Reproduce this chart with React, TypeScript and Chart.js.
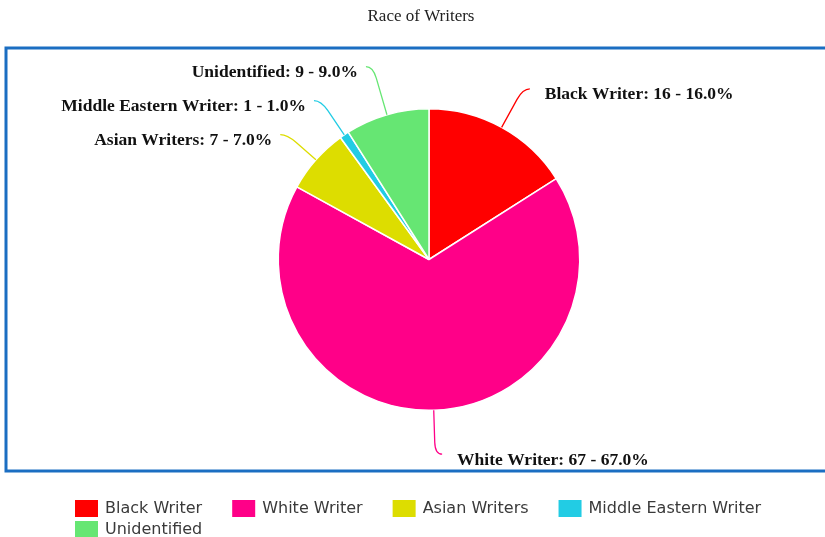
import React, { useEffect, useRef } from "react";
import { Chart, registerables } from "chart.js";

Chart.register(...registerables);

const titleText = "Race of Writers";
const categories = ["Black Writer", "White Writer", "Asian Writers", "Middle Eastern Writer", "Unidentified"];
const counts = [16, 67, 7, 1, 9];
const colors = ["#ff0000", "#ff0088", "#dddd00", "#22cce4", "#66e673"];

const W = 825;
const H = 537;
const MIN_GAP = 34;

const framePlugin = {
  id: "frameAndTitle",
  beforeDraw(chart: any) {
    const ctx = chart.ctx;
    ctx.save();
    ctx.fillStyle = "#ffffff";
    ctx.fillRect(0, 0, W, H);
    ctx.strokeStyle = "#1b6ec2";
    ctx.lineWidth = 3;
    ctx.strokeRect(6, 48, 840, 423);
    ctx.fillStyle = "#222222";
    ctx.font = '17px "Liberation Serif"';
    ctx.textAlign = "center";
    ctx.textBaseline = "alphabetic";
    ctx.fillText(titleText, 421, 21);
    ctx.restore();
  },
  afterDraw(chart: any) {
    const ctx = chart.ctx;
    const labels: string[] = chart.data.labels;
    const bg: string[] = chart.data.datasets[0].backgroundColor;
    const left = 75;
    const maxRight = 790;
    let x = left;
    let rowTop = 500;
    ctx.save();
    ctx.font = '16px "DejaVu Sans"';
    ctx.textBaseline = "middle";
    ctx.textAlign = "left";
    labels.forEach((lab, i) => {
      const w = 30 + ctx.measureText(lab).width;
      if (x > left && x + w > maxRight) {
        x = left;
        rowTop += 21;
      }
      ctx.fillStyle = bg[i];
      ctx.fillRect(x, rowTop, 23, 17);
      ctx.fillStyle = "#3a3a3a";
      ctx.fillText(lab, x + 30, rowTop + 9);
      x += w + 30;
    });
    ctx.restore();
  },
};

const labelPlugin = {
  id: "pieLabels",
  afterDatasetsDraw(chart: any) {
    const ctx = chart.ctx;
    const meta = chart.getDatasetMeta(0);
    const data: number[] = chart.data.datasets[0].data;
    const labels: string[] = chart.data.labels;
    const bg: string[] = chart.data.datasets[0].backgroundColor;
    const total = data.reduce((a, b) => a + b, 0);
    const items = meta.data.map((arc: any, i: number) => {
      const p = arc.getProps(["x", "y", "startAngle", "endAngle", "outerRadius"], true);
      const mid = (p.startAngle + p.endAngle) / 2;
      const cos = Math.cos(mid);
      const sin = Math.sin(mid);
      return { i, p, cos, sin, right: cos >= 0, y: p.y + (p.outerRadius + 44) * sin };
    });
    for (const side of [true, false]) {
      const group = items.filter((it: any) => it.right === side).sort((a: any, b: any) => a.y - b.y);
      for (let iter = 0; iter < 200; iter++) {
        for (let k = 0; k < group.length - 1; k++) {
          const gap = group[k + 1].y - group[k].y;
          if (gap < MIN_GAP) {
            const d = (MIN_GAP - gap) / 2;
            group[k].y -= d;
            group[k + 1].y += d;
          }
        }
      }
    }
    ctx.save();
    items.forEach((it: any) => {
      const { p, cos, sin, right } = it;
      const r = p.outerRadius;
      const ax = p.x + r * cos;
      const ay = p.y + r * sin;
      let t = Math.abs(sin) > 0.05 ? (it.y - p.y) / sin : r + 40;
      t = Math.max(r + 14, Math.min(r + 90, t));
      const qx = p.x + t * cos;
      const qy = it.y;
      const bx = p.x + (t - 12) * cos;
      const by = p.y + (t - 12) * sin;
      const ex = qx + (right ? 7 : -7);
      const ey = qy;
      ctx.strokeStyle = bg[it.i];
      ctx.lineWidth = 1.3;
      ctx.beginPath();
      ctx.moveTo(ax, ay);
      ctx.lineTo(bx, by);
      ctx.quadraticCurveTo(qx, qy, ex, ey);
      ctx.stroke();
      const v = data[it.i];
      const text = `${labels[it.i]}: ${v} - ${((v / total) * 100).toFixed(1)}%`;
      ctx.fillStyle = "#111111";
      ctx.font = 'bold 17.5px "Liberation Serif"';
      ctx.textBaseline = "alphabetic";
      ctx.textAlign = right ? "left" : "right";
      ctx.fillText(text, right ? ex + 15 : ex - 8, ey + 10.5);
    });
    ctx.restore();
  },
};

export default function App() {
  const ref = useRef<HTMLCanvasElement | null>(null);
  useEffect(() => {
    if (!ref.current) return;
    const chart = new Chart(ref.current, {
      type: "pie",
      data: {
        labels: categories,
        datasets: [
          {
            data: counts,
            backgroundColor: colors,
            borderColor: "#ffffff",
            borderWidth: 1.5,
            hoverOffset: 0,
          },
        ],
      },
      options: {
        responsive: false,
        animation: false,
        devicePixelRatio: 1,
        layout: { padding: { left: 277, right: 244, top: 108, bottom: 126 } },
        plugins: {
          legend: { display: false },
          title: { display: false },
          tooltip: { enabled: false },
        },
      } as any,
      plugins: [framePlugin, labelPlugin],
    });
    return () => chart.destroy();
  }, []);
  return (
    <div style={{ position: "absolute", left: 0, top: 0, width: W, height: H }}>
      <canvas ref={ref} width={W} height={H} style={{ display: "block" }} />
    </div>
  );
}
